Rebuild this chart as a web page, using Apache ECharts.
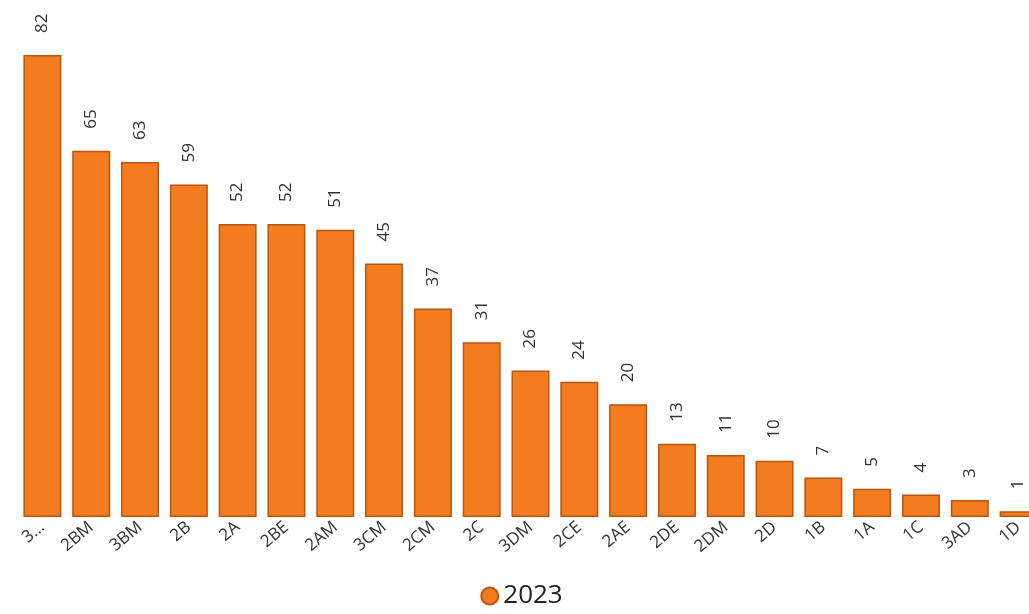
<!DOCTYPE html>
<html><head><meta charset="utf-8">
<script src="https://cdn.jsdelivr.net/npm/echarts@6/dist/echarts.min.js"></script>
<style>html,body{margin:0;padding:0;background:#fff;overflow:hidden;width:1029px;height:614px}#c{width:1043px;height:614px}</style>
</head><body><div id="c"></div>
<script>
const categories = ['3...','2BM','3BM','2B','2A','2BE','2AM','3CM','2CM','2C','3DM','2CE','2AE','2DE','2DM','2D','1B','1A','1C','3AD','1D'];
const values2023 = [82,65,63,59,52,52,51,45,37,31,26,24,20,13,11,10,7,5,4,3,1];
const seriesName = '2023';

const chart = echarts.init(document.getElementById('c'));
chart.setOption({
  animation: false,
  backgroundColor: '#fff',
  grid: { left: 18, right: 0, top: 55, bottom: 97, containLabel: false },
  legend: {
    data: [seriesName], bottom: 0, left: 'center', icon: 'circle', itemWidth: 17, itemHeight: 17, itemGap: 2,
    textStyle: { fontSize: 26, color: '#222', fontFamily: 'Open Sans' }
  },
  xAxis: {
    type: 'category', data: categories,
    axisLine: { show: false }, axisTick: { show: false },
    axisLabel: { interval: 0, rotate: 40, fontSize: 17, color: '#333', fontFamily: 'Open Sans', margin: 8 }
  },
  yAxis: { type: 'value', min: 0, max: 82, show: false, splitLine: { show: false } },
  series: [{
    name: seriesName, type: 'bar', data: values2023, barWidth: 38,
    itemStyle: { color: '#F37B20', borderColor: '#B9560F', borderWidth: 1.5 },
    label: {
      show: true, position: 'top', rotate: 90, align: 'left', verticalAlign: 'middle',
      distance: 22, fontSize: 17, color: '#333', fontFamily: 'Open Sans'
    }
  }]
});
</script></body></html>
